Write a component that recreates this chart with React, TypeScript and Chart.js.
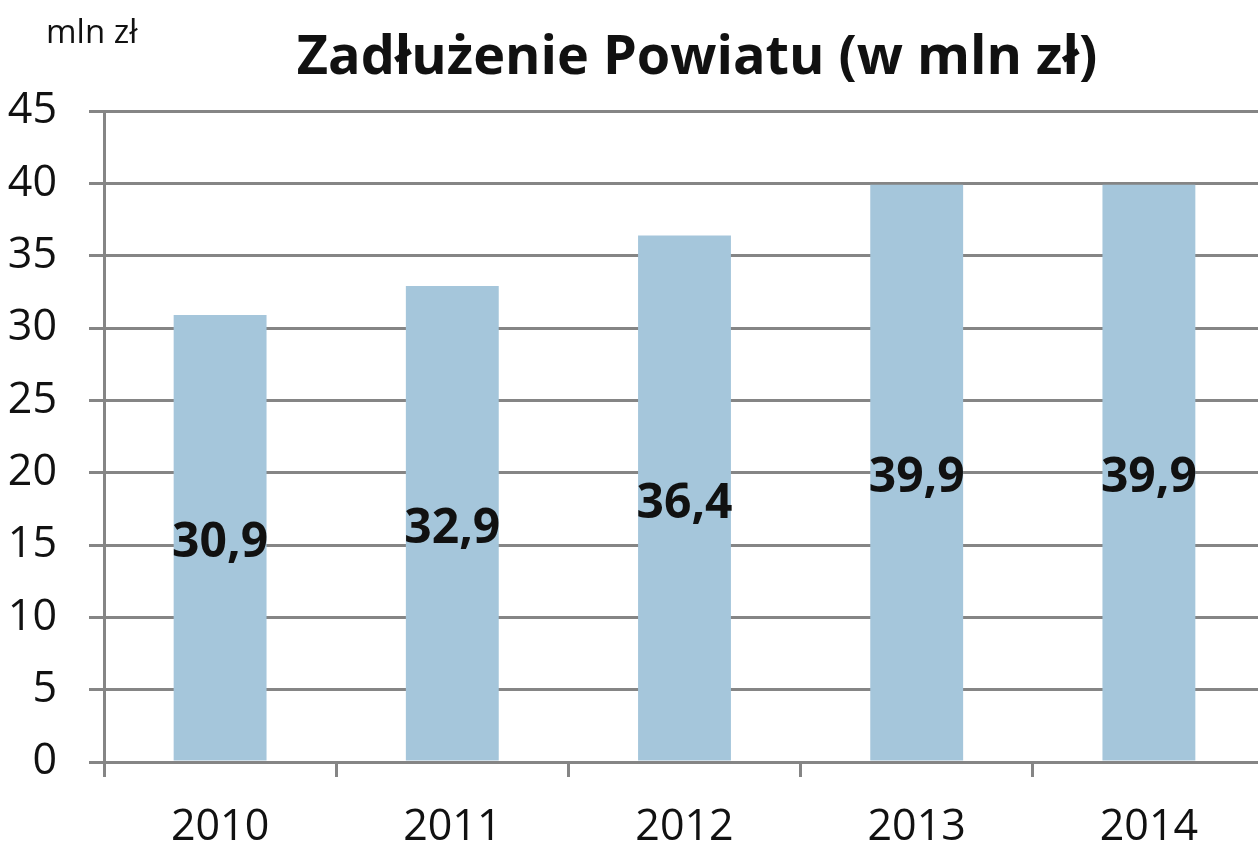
import React, { useEffect, useRef } from "react";
import { Chart, registerables } from "chart.js";

Chart.register(...registerables);

const categories = ["2010", "2011", "2012", "2013", "2014"];
const debtValues = [30.9, 32.9, 36.4, 39.9, 39.9];
const debtLabels = ["30,9", "32,9", "36,4", "39,9", "39,9"];
const yMin = 0;
const yMax = 45;
const yStep = 5;
const chartTitle = "Zadłużenie Powiatu (w mln zł)";
const unitLabel = "mln zł";

const FONT = "'Open Sans', 'Noto Sans', sans-serif";
const GRID = "#858585";
const BAR = "#a5c6db";

const labelsPlugin = {
  id: "barValueLabels",
  afterDatasetsDraw(chart: any) {
    const ctx = chart.ctx;
    const meta = chart.getDatasetMeta(0);
    ctx.save();
    ctx.font = `bold 48px ${FONT}`;
    ctx.fillStyle = "#111";
    ctx.textAlign = "center";
    ctx.textBaseline = "middle";
    meta.data.forEach((bar: any, i: number) => {
      const { x, y, base } = bar.getProps(["x", "y", "base"], true);
      ctx.fillText(debtLabels[i], x, (y + base) / 2 + 6);
    });
    ctx.restore();
  },
};

const textPlugin = {
  id: "titleTexts",
  afterDraw(chart: any) {
    const ctx = chart.ctx;
    ctx.save();
    ctx.fillStyle = "#111";
    ctx.textBaseline = "alphabetic";
    ctx.textAlign = "center";
    ctx.font = `bold 54px ${FONT}`;
    ctx.fillText(chartTitle, 697, 74);
    ctx.textAlign = "left";
    ctx.font = `33px ${FONT}`;
    ctx.fillText(unitLabel, 46, 43);
    ctx.restore();
  },
};

export default function App() {
  const ref = useRef<HTMLCanvasElement | null>(null);

  useEffect(() => {
    if (!ref.current) return;
    const chart = new Chart(ref.current, {
      type: "bar",
      data: {
        labels: categories,
        datasets: [
          {
            data: debtValues,
            backgroundColor: BAR,
            borderWidth: 0,
            categoryPercentage: 1,
            barPercentage: 0.4,
          },
        ],
      },
      options: {
        responsive: false,
        animation: false,
        layout: { padding: { top: 111, right: 1, left: 0, bottom: 0 } },
        plugins: {
          legend: { display: false },
          title: { display: false },
          tooltip: { enabled: false },
        },
        scales: {
          x: {
            offset: true,
            grid: {
              offset: true,
              drawOnChartArea: false,
              drawTicks: true,
              tickLength: 15,
              color: GRID,
              lineWidth: 3,
            },
            border: { display: true, color: GRID, width: 3 },
            ticks: {
              color: "#111",
              font: { family: FONT, size: 43 },
              padding: 25,
            },
            afterFit(scale: any) {
              scale.height = 86;
            },
          },
          y: {
            min: yMin,
            max: yMax,
            grid: {
              color: GRID,
              lineWidth: 3,
              tickLength: 15,
              drawTicks: true,
            },
            border: { display: true, color: GRID, width: 3 },
            ticks: {
              stepSize: yStep,
              color: "#111",
              font: { family: FONT, size: 43 },
              padding: 32,
            },
            afterFit(scale: any) {
              scale.width = 104;
            },
          },
        },
      },
      plugins: [labelsPlugin, textPlugin],
    });
    return () => chart.destroy();
  }, []);

  return (
    <div style={{ position: "fixed", left: 0, top: 0, width: 1258, height: 848, overflow: "hidden", background: "#fff" }}>
      <canvas ref={ref} width={1266} height={848} style={{ display: "block" }} />
    </div>
  );
}
